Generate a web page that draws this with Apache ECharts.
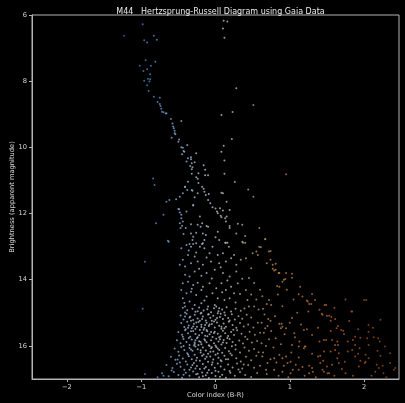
<!DOCTYPE html>
<html>
<head>
<meta charset="utf-8">
<script src="https://cdn.jsdelivr.net/npm/echarts@6/dist/echarts.min.js"></script>
<style>
  html, body { margin: 0; padding: 0; background: #000; }
  #chart { width: 405px; height: 403px; }
</style>
</head>
<body>
<div id="chart"></div>
<script>
// Each star: [colour index (B-R), apparent magnitude]

// Brightest members and the upper main sequence turn-off
const brightStars = [
  [-1.23,6.63],[-0.98,6.28],[-0.96,6.76],[-0.92,6.83],[-0.83,6.63],[-0.79,6.75],
  [0.11,6.17],[0.16,6.2],[0.10,6.41],[0.12,6.69],
  [-1.02,7.53],[-0.94,7.37],[-0.81,7.41],[-0.87,7.53],[-0.97,7.69],[-0.92,7.64],
  [-0.88,7.79],[-0.91,7.93],[-0.88,7.94],[-0.96,7.99],[-0.89,8.01],[-0.92,8.12],
  [-0.9,8.3],[-0.83,8.47],[-0.75,8.5],[-0.78,8.63],[-0.74,8.75],[-0.73,8.83],
  [-0.72,8.92],[-0.66,8.97],[-0.6,9.14],[-0.58,9.28],[-0.57,9.37],[-0.46,9.2],
  [0.28,8.21],[0.23,8.93],[0.08,9.02],[0.51,8.72]
];

// Upper main sequence, magnitudes ~8.7 to 13
const upperSequence = [
  [-0.75,8.69],[-0.7,8.94],[-0.67,8.98],[-0.55,9.5],[-0.54,9.6],[-0.59,9.71],
  [-0.49,9.76],[-0.5,9.83],[-0.44,10.01],[-0.43,10.11],[-0.38,9.93],[-0.45,10.21],
  [-0.37,10.33],[-0.33,10.36],[-0.32,10.48],[-0.34,10.56],[-0.32,10.66],[-0.28,10.45],
  [-0.26,10.18],[-0.32,10.8],[-0.26,10.9],[-0.24,10.95],[-0.16,10.54],[-0.14,10.84],
  [-0.1,10.84],[-0.37,11.04],[-0.23,11.08],[-0.41,11.2],[-0.38,11.29],[-0.32,11.29],
  [-0.24,11.39],[-0.16,11.25],[-0.15,11.34],[-0.13,11.44],[-0.1,11.59],[-0.28,11.51],
  [-0.44,11.39],[-0.48,11.49],[-0.53,11.57],[-0.62,11.59],[-0.66,11.64],[-0.3,11.76],
  [-0.5,11.86],[-0.48,11.97],[-0.39,11.94],[-0.07,11.69],[-0.04,11.81],[0,11.85],
  [0.02,11.94],[0.03,11.99],[0.07,12.07],[0.13,12.14],[0.1,11.91],[0.06,11.84],
  [-0.46,12.14],[-0.44,12.24],[-0.45,12.37],[-0.47,12.44],[-0.4,12.44],[-0.33,12.32],
  [-0.24,12.34],[-0.18,12.29],[-0.2,12.4],[-0.1,12.4],[-0.21,12.09],[-0.26,12.58],
  [-0.33,12.6],[-0.43,12.62],[-0.17,12.6],[-0.13,12.65],[-0.31,12.8],[-0.26,12.9],
  [-0.35,12.92],[-0.18,12.92],[-0.15,12.8],[-0.63,12.85],[-0.8,12.29],[-0.7,12.04],
  [-0.82,11.14],[-0.84,10.94],
  [0.22,9.75],[0.11,9.95],[0.08,10.13],[0.12,10.4],[0.12,10.8],[0.26,11.05],
  [0.95,10.81],[0.44,11.27],[0.51,11.49],[0.1,11.39],[0.15,11.64],[0.19,11.89],
  [0.08,12.11],[0.14,12.24],[0.3,12.31],[0.36,12.34],[0.19,12.44],[0.28,12.6],
  [0.4,12.68],[0.59,12.44],[0.67,12.78],[0.37,12.88],[0.14,12.88],[0.03,12.55],
  [0,12.72],[0.05,12.8],[0.59,13.0],[-0.04,13.0],[0.18,13.0],
  [-0.56,9.42],[-0.55,9.57],[-0.46,10.0],[-0.42,10.13],[-0.39,10.43],[-0.33,10.3],
  [-0.31,10.6],[-0.23,10.78],[-0.14,10.68],[-0.41,11.19],[-0.31,11.31],[-0.18,11.19],
  [-0.09,11.41],[-0.3,11.74],[-0.49,11.87],[-0.46,12.04],[-0.48,12.29],[-0.3,12.7],
  [-0.12,12.38],[0.19,12.38],[0.15,12.09],[0.08,11.37]
];

// Middle of the sequence, magnitudes ~12.9 to 14.9
const midSequence = [
  [-0.46,13.05],[-0.39,12.95],[-0.33,13.0],[-0.3,12.92],[-0.21,13.0],[-0.17,12.9],
  [-0.15,13.05],[-0.26,13.18],[-0.28,13.3],[-0.37,13.25],[-0.44,13.4],[-0.48,13.55],
  [-0.41,13.6],[-0.33,13.5],[-0.24,13.45],[-0.17,13.55],[-0.08,13.2],[-0.06,13.45],
  [0.03,13.25],[0.1,13.2],[0.05,13.5],[0.14,13.45],[0.21,13.35],[0.25,13.25],
  [0.28,13.55],[0.34,13.4],[0.41,13.35],[-0.01,13.7],[0.1,13.8],[0.19,13.9],
  [0.28,13.75],[-0.41,13.85],[-0.35,13.9],[-0.28,13.75],[-0.19,13.88],[-0.12,13.8],
  [-0.44,14.11],[-0.37,14.06],[-0.3,14.16],[-0.24,14.09],[-0.17,14.21],[-0.08,14.11],
  [0.01,14.26],[0.08,14.11],[0.14,14.31],[0.21,14.21],[0.25,14.41],[-0.46,14.31],
  [-0.39,14.41],[-0.33,14.36],[-0.26,14.46],[-0.19,14.31],[-0.12,14.51],[-0.04,14.41],
  [0.03,14.56],[0.12,14.61],[0.19,14.56],[-0.44,14.56],[-0.35,14.66],[-0.28,14.76],
  [-0.19,14.71],[-0.1,14.81],[-0.01,14.76],[0.05,14.86],[-0.41,14.81],
  [0.5,13.2],[0.57,13.25],[0.55,13.15],[0.61,13.02],[0.72,13.15],[0.77,13.55],
  [0.81,13.7],[0.86,13.8],[0.92,14.0],[0.95,13.8],[0.83,14.19],[0.72,14.61],
  [0.45,14.81],[0.52,14.81],[0.48,13.65],[0.4,12.88],[0.36,12.85],[0.16,12.88],
  [0.13,12.88],[0.41,14.31],[0.3,14.11],[0.33,14.43],[0.43,14.61],
  [-0.64,12.82],[-0.95,13.46],[-0.98,14.88],
  [-0.36,13.12],[-0.12,13.33],[0.07,13.62],[-0.22,13.67],[0.16,14.02],[-0.05,13.96],
  [-0.32,14.27],[0.09,14.38],[-0.15,14.63],[0.27,14.69],[-0.42,14.7],[0.36,13.97]
];

// Dense lower part of the cluster sequence, magnitudes ~14.8 to 17
const faintCore = [
  [-0.44,14.85],[-0.38,14.92],[-0.31,14.88],[-0.27,14.97],[-0.22,14.84],[-0.16,14.93],
  [-0.11,14.89],[-0.06,14.98],[-0.02,14.86],[0.04,14.95],[0.09,14.9],[0.15,14.83],
  [0.21,14.96],[0.27,14.88],[0.34,14.94],[-0.41,14.99],[-0.19,15.0],[0.01,14.81],
  [0.12,14.99],[0.39,14.87],
  [-0.47,15.08],[-0.43,15.2],[-0.39,15.03],[-0.35,15.14],[-0.3,15.22],[-0.28,15.06],
  [-0.24,15.17],[-0.2,15.02],[-0.17,15.11],[-0.13,15.23],[-0.1,15.05],[-0.07,15.15],
  [-0.03,15.09],[0.0,15.21],[0.03,15.01],[0.06,15.13],[0.1,15.19],[0.13,15.07],
  [0.17,15.16],[0.22,15.04],[0.26,15.2],[0.31,15.1],[0.36,15.18],[0.42,15.06],
  [0.48,15.14],[-0.33,15.24],[-0.05,15.24],[0.19,15.23],
  [-0.46,15.31],[-0.42,15.43],[-0.38,15.27],[-0.36,15.38],[-0.32,15.47],[-0.29,15.33],
  [-0.25,15.42],[-0.23,15.28],[-0.19,15.36],[-0.15,15.46],[-0.12,15.3],[-0.09,15.4],
  [-0.05,15.34],[-0.01,15.44],[0.02,15.29],[0.05,15.39],[0.08,15.48],[0.11,15.32],
  [0.14,15.42],[0.18,15.27],[0.23,15.37],[0.28,15.45],[0.33,15.31],[0.38,15.41],
  [0.44,15.35],[0.51,15.44],[0.57,15.3],[-0.27,15.49],[-0.02,15.26],[0.12,15.47],
  [-0.5,15.58],[-0.45,15.66],[-0.41,15.53],[-0.37,15.62],[-0.34,15.72],[-0.3,15.55],
  [-0.27,15.64],[-0.24,15.74],[-0.21,15.52],[-0.18,15.6],[-0.14,15.69],[-0.11,15.56],
  [-0.08,15.65],[-0.04,15.73],[-0.01,15.57],[0.03,15.63],[0.07,15.71],[0.1,15.54],
  [0.13,15.62],[0.17,15.7],[0.21,15.58],[0.25,15.67],[0.29,15.53],[0.35,15.63],
  [0.4,15.72],[0.46,15.57],[0.53,15.66],[0.6,15.6],[-0.16,15.51],[0.05,15.74],
  [-0.52,15.83],[-0.47,15.92],[-0.43,15.79],[-0.39,15.88],[-0.35,15.97],[-0.32,15.81],
  [-0.28,15.9],[-0.25,15.77],[-0.22,15.86],[-0.19,15.95],[-0.15,15.8],[-0.12,15.89],
  [-0.09,15.98],[-0.06,15.83],[-0.02,15.92],[0.01,15.78],[0.04,15.87],[0.08,15.96],
  [0.11,15.82],[0.15,15.91],[0.19,15.79],[0.23,15.88],[0.27,15.97],[0.32,15.84],
  [0.37,15.93],[0.43,15.8],[0.49,15.9],[0.56,15.85],[-0.29,15.99],[0.0,15.99],
  [-0.55,16.08],[-0.5,16.18],[-0.46,16.03],[-0.42,16.12],[-0.38,16.22],[-0.35,16.06],
  [-0.31,16.15],[-0.27,16.02],[-0.24,16.1],[-0.2,16.2],[-0.17,16.05],[-0.13,16.14],
  [-0.1,16.24],[-0.06,16.07],[-0.03,16.17],[0.01,16.03],[0.05,16.12],[0.09,16.21],
  [0.13,16.06],[0.18,16.16],[0.22,16.01],[0.27,16.11],[0.33,16.2],[0.39,16.05],
  [0.45,16.15],[0.52,16.09],[0.58,16.19],[-0.08,16.0],
  [-0.6,16.33],[-0.54,16.42],[-0.49,16.29],[-0.44,16.38],[-0.4,16.47],[-0.36,16.31],
  [-0.32,16.4],[-0.28,16.27],[-0.25,16.36],[-0.21,16.45],[-0.18,16.3],[-0.14,16.39],
  [-0.1,16.48],[-0.07,16.32],[-0.03,16.41],[0.0,16.27],[0.04,16.36],[0.08,16.46],
  [0.12,16.3],[0.17,16.4],[0.22,16.28],[0.28,16.37],[0.34,16.47],[0.41,16.33],
  [0.48,16.43],[0.55,16.3],
  [-0.66,16.58],[-0.58,16.67],[-0.52,16.54],[-0.47,16.63],[-0.42,16.72],[-0.38,16.56],
  [-0.33,16.65],[-0.29,16.52],[-0.25,16.61],[-0.21,16.7],[-0.17,16.55],[-0.13,16.64],
  [-0.09,16.73],[-0.05,16.57],[-0.01,16.66],[0.03,16.53],[0.07,16.62],[0.12,16.71],
  [0.17,16.56],[0.23,16.65],[0.29,16.53],[0.36,16.68],[0.44,16.58],[0.52,16.66],
  [-0.72,16.83],[-0.63,16.92],[-0.56,16.79],[-0.5,16.88],[-0.45,16.96],[-0.4,16.81],
  [-0.35,16.9],[-0.3,16.77],[-0.26,16.86],[-0.22,16.95],[-0.18,16.8],[-0.13,16.89],
  [-0.09,16.97],[-0.05,16.82],[0.0,16.91],[0.04,16.78],[0.09,16.87],[0.14,16.96],
  [0.2,16.81],[0.26,16.9],[0.33,16.79],[0.4,16.88],[0.48,16.94],[0.56,16.82],
  [-0.34,15.12],[-0.26,15.29],[-0.18,15.19],[-0.08,15.35],[0.02,15.16],[-0.3,15.41],
  [-0.12,15.52],[-0.22,15.68],[-0.02,15.61],[-0.36,15.76],[-0.14,15.84],[0.06,15.8],
  [-0.28,15.94],[-0.05,16.04],[-0.2,16.13],[-0.37,16.26],[0.03,16.23],[-0.12,16.33],
  [-0.26,16.44],[-0.04,16.5],[-0.31,16.58],[-0.15,16.68],[0.0,16.75],[-0.24,16.84],
  [-0.4,15.5],[-0.09,15.04],[-0.24,14.95],[0.08,15.42],[-0.33,15.56],[-0.19,15.43],
  [0.1,15.9],[-0.43,16.0],[-0.07,16.18],[0.14,16.4],[-0.35,16.72],[0.06,16.93],
  [-0.17,16.92],[-0.48,16.5],[-0.11,15.71],[-0.27,15.83],
  [-0.95,16.85],[-0.78,16.95],[-0.7,16.9],
  [-0.41,15.11],[-0.21,15.24],[0.07,15.03],[-0.14,15.37],[0.24,15.51],[-0.37,15.45],
  [-0.06,15.58],[0.16,15.76],[-0.44,15.72],[-0.23,15.97],[0.03,16.08],[-0.33,16.11],
  [0.2,16.23],[-0.16,16.26],[-0.51,16.41],[0.07,16.43],[-0.27,16.68],[0.19,16.76],
  [-0.43,16.87],[-0.11,16.81],[0.31,16.71],[-0.59,16.74],[0.38,16.56],[-0.2,15.88]
];

// Red, faint stars spreading to the right of the sequence
const redField = [
  [0.67,12.77],[0.74,13.13],[0.69,13.5],[0.74,13.4],[0.81,13.52],[0.77,13.67],
  [0.79,13.72],[0.85,13.8],[1.03,13.82],[1.03,13.94],[0.94,13.98],[0.9,14.06],
  [0.86,14.21],[1.14,14.21],[1.12,14.44],[1.17,14.51],[1.23,14.63],[1.3,14.43],
  [1.34,14.61],[1.26,14.73],[1.25,14.96],[1.4,14.91],[1.47,14.76],[1.43,15.03],
  [1.5,15.09],[1.56,15.13],[1.55,15.24],[1.61,15.19],[1.63,15.47],[1.69,15.52],
  [1.73,15.64],[2.0,14.61],[1.83,14.96],[2.06,15.37],[2.22,15.21],[0.64,14.88],
  [0.69,14.73],[0.75,14.76],[0.71,15.19],[0.74,15.24],[0.67,15.47],[0.86,15.33],
  [0.88,15.47],[0.95,15.47],[0.81,15.77],[1.03,15.16],[1.07,15.74],[1.19,15.52],
  [1.23,15.5],[1.3,15.67],[1.12,16.02],[1.19,16.07],[1.46,15.82],[1.49,15.82],
  [1.57,15.82],[1.61,15.97],[1.65,15.97],[1.78,15.87],[1.85,15.82],[1.88,15.72],
  [1.95,15.75],[2.04,15.77],[2.13,15.74],[2.19,15.77],[2.21,15.87],[2.06,15.97],
  [2.28,16.02],[2.35,16.22],[1.88,15.97],[1.94,16.07],[1.84,16.12],[1.78,16.17],
  [1.66,16.22],[1.55,16.17],[1.46,16.17],[1.38,16.32],[1.3,16.24],[1.41,16.3],
  [1.61,16.12],[1.92,16.24],[2.02,16.27],[2.06,16.37],[2.17,16.57],[2.01,16.52],
  [1.93,16.62],[1.74,16.48],[1.66,16.52],[1.57,16.57],[1.5,16.62],[1.41,16.52],
  [1.3,16.67],[1.26,16.6],[1.17,16.64],[1.08,16.57],[1.01,16.48],[0.95,16.32],
  [0.86,16.27],[0.79,16.37],[0.7,16.52],[0.68,16.72],[0.79,16.72],[0.9,16.78],
  [1.01,16.83],[1.12,16.72],[1.26,16.83],[1.46,16.78],[1.53,16.83],[1.75,16.83],
  [2.15,16.78],[2.26,16.83],[2.35,16.52],[2.42,16.67],[1.21,16.02],[1.03,15.97],
  [0.62,15.92],[0.63,16.32],[2.22,16.3],[2.06,15.57],
  [0.45,13.95],[0.52,14.1],[0.6,14.3],[0.48,14.45],[0.55,14.6],[0.63,14.5],
  [0.58,14.9],[0.66,15.05],[0.62,15.3],[0.7,15.4],[0.65,15.6],[0.75,15.55],
  [0.72,15.8],[0.68,16.0],[0.78,16.05],[0.64,16.2],[0.74,16.4],[0.82,16.5],
  [0.6,16.6],[0.69,16.85],[0.85,16.9],[0.92,16.6],[0.98,16.95],[0.88,15.95],
  [0.93,15.65],[1.0,15.3],[0.8,15.1],[0.9,14.8],[0.84,14.45],[0.96,14.3],
  [1.05,14.6],[1.1,15.0],[1.15,15.35],[1.02,16.2],[1.12,16.35],[1.2,16.9],
  [1.35,16.95],[1.45,16.45],[1.6,16.9],[1.7,16.7],[1.85,16.9],[1.95,16.45],
  [2.1,16.9],[2.18,16.15],[2.3,16.95],[2.25,16.6],[1.55,15.55],[1.38,15.45],
  [1.65,15.4],[1.8,15.25],[1.92,15.5],[2.12,15.45],[1.75,14.6],[1.6,14.85],
  [1.24,14.66],[1.29,14.73],[1.49,14.76],[1.44,15.06],[1.53,15.09],[1.72,15.54],
  [1.84,14.96],[2.03,14.61],[0.89,15.33],[0.9,15.42],[1.06,15.62],[1.13,15.87],
  [1.2,16.02],[1.4,15.87],[1.64,15.87],[0.9,16.37],[0.97,16.52],[1.04,16.72],
  [1.31,16.78],[1.44,16.72],[1.51,16.83],[1.64,16.37],[1.88,16.32],[2.02,16.48],
  [2.2,16.67],[2.4,16.72]
];

// Axis ticks
const colourTicks = [-2, -1, 0, 1, 2];
const magnitudeTicks = [6, 8, 10, 12, 14, 16];

const stars = [].concat(brightStars, upperSequence, midSequence, faintCore, redField);

const chart = echarts.init(document.getElementById('chart'), null, { renderer: 'canvas' });
const font = 'DejaVu Sans';
const frameColor = '#b4b4b4';
const textColor = '#dadada';

chart.setOption({
  backgroundColor: '#000000',
  animation: false,
  textStyle: { fontFamily: font },
  title: {
    text: 'M44   Hertzsprung-Russell Diagram using Gaia Data',
    left: 215.5,
    textAlign: 'center',
    top: 3,
    textStyle: { color: '#ececec', fontSize: 8, fontWeight: 'normal', fontFamily: font }
  },
  grid: {
    left: 32, right: 6, top: 15, bottom: 24,
    outerBoundsMode: 'none',
    containLabel: false,
    show: true, borderColor: frameColor, borderWidth: 1,
    backgroundColor: 'transparent'
  },
  visualMap: {
    show: false,
    type: 'continuous',
    dimension: 0,
    min: -1.2, max: 2.3,
    inRange: {
      color: ['#3a66a6', '#5084c0', '#88aad2', '#b4c2d6', '#bcbcbc', '#b49474',
              '#bc7e44', '#ba6c2e', '#b05e22', '#a0521a', '#904614']
    }
  },
  xAxis: {
    type: 'value',
    min: -2.47, max: 2.47,
    name: 'Color index (B-R)',
    nameLocation: 'middle',
    nameGap: 13,
    nameMoveOverlap: false,
    nameTextStyle: { color: textColor, fontSize: 6.7, fontFamily: font },
    axisLine: { show: true, onZero: false, lineStyle: { color: frameColor, width: 1 } },
    axisTick: { show: true, length: 3, lineStyle: { color: frameColor }, customValues: colourTicks },
    axisLabel: { color: textColor, fontSize: 6.7, margin: 4.5, fontFamily: font, customValues: colourTicks,
      formatter: v => (v < 0 ? '\u2212' + Math.abs(v) : String(v)) },
    splitLine: { show: false }
  },
  yAxis: {
    type: 'value',
    inverse: true,
    min: 6, max: 17,
    name: 'Brightness (apparent magnitude)',
    nameLocation: 'middle',
    nameGap: 16,
    nameMoveOverlap: false,
    nameTextStyle: { color: textColor, fontSize: 6.7, fontFamily: font },
    axisLine: { show: true, onZero: false, lineStyle: { color: frameColor, width: 1 } },
    axisTick: { show: true, length: 3, lineStyle: { color: frameColor }, customValues: magnitudeTicks },
    axisLabel: { color: textColor, fontSize: 6.7, margin: 5, fontFamily: font, customValues: magnitudeTicks },
    splitLine: { show: false }
  },
  series: [{
    type: 'scatter',
    data: stars,
    symbol: 'circle',
    symbolSize: 2,
    itemStyle: { opacity: 0.8 },
    emphasis: { disabled: true },
    silent: true
  }]
});
</script>
</body>
</html>
